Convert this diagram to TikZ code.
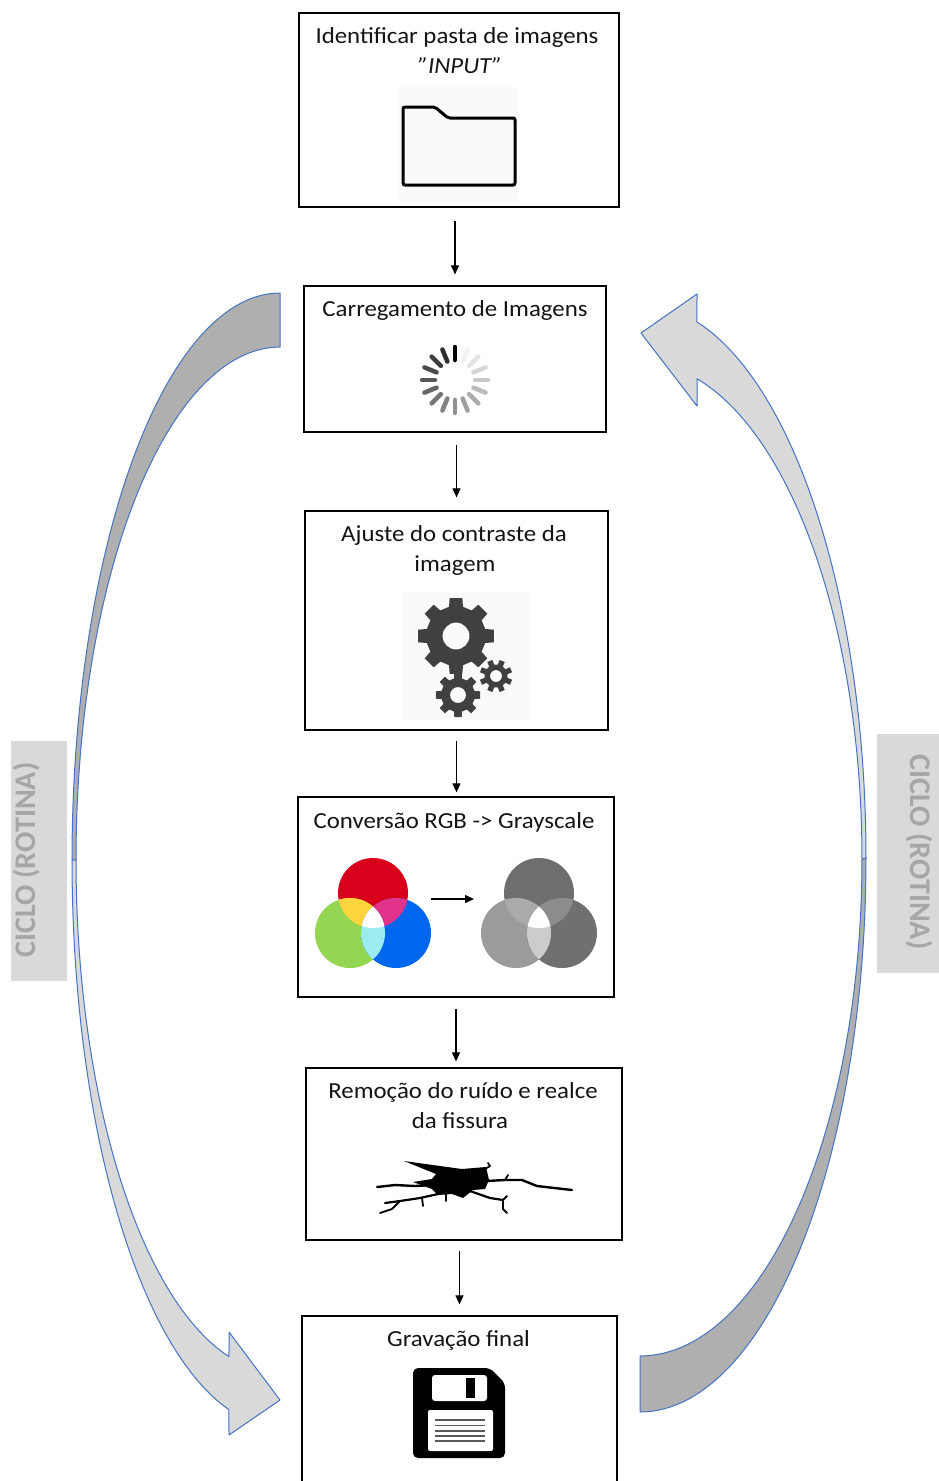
\documentclass[tikz,border=0pt]{standalone}
\usepackage{fontspec}
\setmainfont{Carlito}[FakeStretch=1.08, Ligatures=ResetAll]
\newfontfamily\cyclefont{Carlito}
\usetikzlibrary{arrows.meta,calc}

\definecolor{arrowdark}{RGB}{175,175,175}
\definecolor{arrowlight}{RGB}{217,217,217}
\definecolor{arrowedge}{RGB}{68,114,196}
\definecolor{cyclebg}{RGB}{217,217,217}
\definecolor{cycletext}{RGB}{166,166,166}
\definecolor{gearfill}{RGB}{64,64,64}
\definecolor{iconbg}{RGB}{250,250,250}
\definecolor{rgbR}{RGB}{217,0,27}
\definecolor{rgbG}{RGB}{146,214,82}
\definecolor{rgbB}{RGB}{0,102,238}
\definecolor{rgbY}{RGB}{255,212,60}
\definecolor{rgbM}{RGB}{225,50,140}
\definecolor{rgbC}{RGB}{155,235,240}
\definecolor{grT}{RGB}{110,110,110}
\definecolor{grL}{RGB}{155,155,155}
\definecolor{grR}{RGB}{112,112,112}
\definecolor{grTL}{RGB}{170,170,170}
\definecolor{grTR}{RGB}{140,140,140}
\definecolor{grLR}{RGB}{204,204,204}

% three overlapping discs: centre of top disc, then the seven fill colours
\newcommand\venndiag[8]{%
  \begin{scope}[shift={(#1,#2)}]
    \fill[#3] (0,0) circle[radius=35];
    \fill[#4] (-23,40) circle[radius=35];
    \fill[#5] (23,40) circle[radius=35];
    \begin{scope}\clip (0,0) circle[radius=35]; \fill[#6] (-23,40) circle[radius=35];\end{scope}
    \begin{scope}\clip (0,0) circle[radius=35]; \fill[#7] (23,40) circle[radius=35];\end{scope}
    \begin{scope}\clip (-23,40) circle[radius=35]; \fill[#8] (23,40) circle[radius=35];\end{scope}
    \begin{scope}\clip (0,0) circle[radius=35]; \clip (-23,40) circle[radius=35];
      \fill[white] (23,40) circle[radius=35];\end{scope}
  \end{scope}}

% cog wheel: cx, cy, body radius, tip radius, hole radius, teeth, phase
\newcommand\cogwheel[7]{%
  \begin{scope}[shift={(#1,#2)}]
    \pgfmathsetmacro\cgp{360/#6}
    \fill[gearfill, even odd rule]
      ({#3*cos(#7-0.30*\cgp)},{#3*sin(#7-0.30*\cgp)})
      \foreach \cgk [evaluate=\cgk as \cga using #7+(\cgk-1)*\cgp] in {1,...,#6} {
        -- ({#3*cos(\cga-0.30*\cgp)},{#3*sin(\cga-0.30*\cgp)})
        -- ({#4*cos(\cga-0.21*\cgp)},{#4*sin(\cga-0.21*\cgp)})
        -- ({#4*cos(\cga+0.21*\cgp)},{#4*sin(\cga+0.21*\cgp)})
        -- ({#3*cos(\cga+0.30*\cgp)},{#3*sin(\cga+0.30*\cgp)})
      } -- cycle
      (0,0) circle[radius=#5];
  \end{scope}}

\begin{document}
\begin{tikzpicture}[x=1pt,y=-1pt,
  box/.style={draw=black, line width=1.2pt, inner sep=0pt, fill=white},
  lbl/.style={anchor=base, inner sep=0pt, text=black!92,
    font=\fontsize{23}{30}\selectfont},
  flow/.style={line width=1.1pt, -{Triangle[length=9pt,width=8pt]}},
  cycdark/.style={fill=arrowdark, draw=arrowedge, line width=1pt, line join=round},
  cyclight/.style={fill=arrowlight, draw=arrowedge, line width=1pt, line join=round},
  cyclbl/.style={anchor=base, inner sep=0pt, text=cycletext,
    font=\cyclefont\bfseries\fontsize{30}{36}\selectfont}]

\fill[white] (0,0) rectangle (939,1481);
\useasboundingbox (0,0) rectangle (939,1481);

% ---- curved cycle arrows ----
% left: from the loading step down to the final step
\filldraw[cycdark]
  plot[domain=-90:0, samples=60] ({280-208*cos(\x)},{860+567*sin(\x)})
  -- plot[domain=0:-90, samples=60] ({280-204*cos(\x)},{860+513*sin(\x)}) -- cycle;
\filldraw[cyclight]
  plot[domain=0:75.8, samples=60] ({280-208*cos(\x)},{860+567*sin(\x)})
  -- (229,1435) -- (280,1400) -- (229,1332)
  -- plot[domain=75.52:0, samples=60] ({280-204*cos(\x)},{860+513*sin(\x)}) -- cycle;
% right: from the final step back up to the loading step
\filldraw[cycdark]
  plot[domain=90:0, samples=60] ({640+226*cos(\x)},{858+554*sin(\x)})
  -- plot[domain=0:90, samples=60] ({640+222*cos(\x)},{859+497*sin(\x)}) -- cycle;
\filldraw[cyclight]
  plot[domain=0:-75.4, samples=60] ({640+226*cos(\x)},{858+554*sin(\x)})
  -- (697,294) -- (641,333) -- (697,406)
  -- plot[domain=-75.12:0, samples=60] ({640+222*cos(\x)},{859+497*sin(\x)}) -- cycle;

% ---- side captions ----
\fill[cyclebg] (11,741) rectangle (67,981);
\node[cyclbl, rotate=90] (cycL) at (35,860) {CICLO (ROTINA)};
\fill[cyclebg] (877,734) rectangle (945,973);
\node[cyclbl, rotate=-90] (cycR) at (910,852) {CICLO (ROTINA)};

% ---- process boxes ----
\node[box, minimum width=320pt, minimum height=194pt] (b1) at (459,110) {};
\node[box, minimum width=302pt, minimum height=146pt] (b2) at (455,359) {};
\node[box, minimum width=303pt, minimum height=219pt] (b3) at (456.5,620.5) {};
\node[box, minimum width=316pt, minimum height=200pt] (b4) at (456,897) {};
\node[box, minimum width=316pt, minimum height=172pt] (b5) at (464,1154) {};
\node[box, minimum width=315pt, minimum height=184pt] (b6) at (459.5,1408) {};

\node[lbl] (t1a) at (457,43) {Identificar pasta de imagens};
\node[lbl] (t1b) at (460,73) {\itshape "INPUT"};
\node[lbl] (t2)  at (455,316) {Carregamento de Imagens};
\node[lbl] (t3a) at (454,541) {Ajuste do contraste da};
\node[lbl] (t3b) at (455,571) {imagem};
\node[lbl] (t4)  at (454,828) {Conversão RGB -> Grayscale};
\node[lbl] (t5a) at (463,1098) {Remoção do ruído e realce};
\node[lbl] (t5b) at (460,1128) {da fissura};
\node[lbl] (t6)  at (458.5,1346) {Gravação final};

% ---- flow arrows ----
\draw[flow, shorten <=13pt, shorten >=11pt] (b2.north |- b1.south) -- (b2.north);
\draw[flow, shorten <=12pt, shorten >=13pt] (b3.north |- b2.south) -- (b3.north);
\draw[flow, shorten <=10pt, shorten >=4pt] (b3.south) -- (b3.south |- b4.north);
\draw[flow, shorten <=11pt, shorten >=6pt] (b4.south) -- (b4.south |- b5.north);
\draw[flow, shorten <=10pt, shorten >=11pt] (b6.north |- b5.south) -- (b6.north);

% ---- folder icon ----
\fill[iconbg] (398,87) rectangle (518,203);
\draw[line width=3pt, rounded corners=2pt, fill=black!2]
  (403,107) -- (435,107) -- (448,118) -- (515,118) -- (515,185) -- (403,185) -- cycle;

% ---- loading spinner ----
\foreach \k in {0,...,15} {
  \pgfmathsetmacro\ang{90-22.5*\k}
  \pgfmathsetmacro\shd{\k==0 ? 100 : 5+(\k-1)*5.5}
  \draw[line width=4.5pt, line cap=round, color=black!\shd]
    ({455+20*cos(\ang)},{380-20*sin(\ang)}) -- ({455+33*cos(\ang)},{380-33*sin(\ang)});
}

% ---- gears ----
\fill[iconbg] (401,592) rectangle (531,720);
\cogwheel{456}{636}{30}{38.5}{13.5}{8}{0}
\cogwheel{458}{695}{17}{22.5}{8}{8}{0}
\cogwheel{496}{676}{11.5}{16.5}{6}{8}{22.5}

% ---- colour to grey ----
\venndiag{373}{893}{rgbR}{rgbG}{rgbB}{rgbY}{rgbM}{rgbC}
\venndiag{539}{893}{grT}{grL}{grR}{grTL}{grTR}{grLR}
\draw[line width=1.5pt, -{Triangle[length=9pt,width=8pt]}] (431,899) -- (474,899);

% ---- crack ----
\fill[black] (404,1161) -- (440,1166) -- (462,1169) -- (486,1167) -- (489,1180) -- (485,1189)
  -- (473,1190) -- (463,1198) -- (452,1194) -- (438,1195) -- (432,1189)
  -- (413,1182) -- (432,1179) -- (436,1174) -- cycle;
\begin{scope}[line cap=round, line join=round]
  \draw[line width=2.4pt] (486,1181) -- (505,1180) -- (522,1180) -- (537,1186) -- (572,1190);
  \draw[line width=1.8pt] (505,1180) -- (508,1175);
  \draw[line width=1.8pt] (485,1169) -- (490,1166) -- (488,1163);
  \draw[line width=2.2pt] (470,1191) -- (490,1198) -- (503,1200);
  \draw[line width=1.8pt] (503,1200) -- (507,1196);
  \draw[line width=1.8pt] (503,1200) -- (503,1209) -- (507,1213);
  \draw[line width=1.8pt] (446,1194) -- (446,1201);
  \draw[line width=2.4pt] (433,1185) -- (415,1186) -- (395,1185) -- (377,1187);
  \draw[line width=2.2pt] (438,1194) -- (420,1198) -- (400,1201) -- (385,1203);
  \draw[line width=1.8pt] (400,1201) -- (392,1209) -- (380,1213);
  \draw[line width=1.8pt] (422,1198) -- (423,1206);
\end{scope}

% ---- floppy disk ----
\fill[black, rounded corners=5pt]
  (413,1368) -- (490,1368) -- (505,1383) -- (505,1458) -- (413,1458) -- cycle;
\fill[white, rounded corners=3pt] (432,1375) rectangle (487,1401);
\fill[black] (466,1378) rectangle (475,1398);
\fill[white, rounded corners=2pt] (428,1410) rectangle (493,1451);
\foreach \yy in {1420,1425.5,1431,1436,1441}
  \draw[line width=1.8pt, black!65] (435,\yy) -- (485,\yy);

\end{tikzpicture}
\end{document}
